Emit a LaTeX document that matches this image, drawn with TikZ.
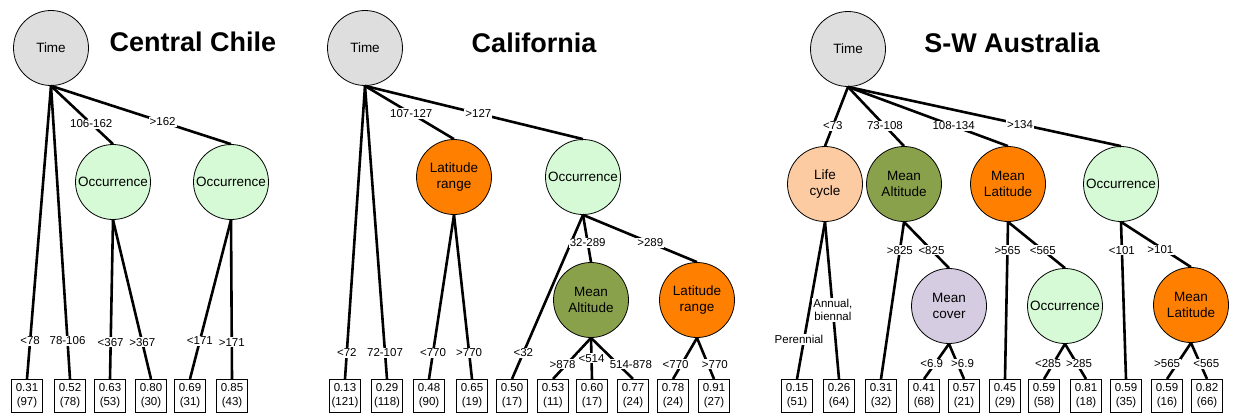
\documentclass[tikz,border=0pt]{standalone}
\usepackage{fontspec}
\setmainfont{Liberation Sans}
\definecolor{rootgray}{HTML}{DEDEDE}
\definecolor{occgreen}{HTML}{D5FAD5}
\definecolor{latorange}{HTML}{FF7F00}
\definecolor{altolive}{HTML}{8AA14C}
\definecolor{lifepeach}{HTML}{FCCBA2}
\definecolor{covlilac}{HTML}{D5CCE1}
\begin{document}
\begin{tikzpicture}[
    x=1pt, y=-1pt,
    split/.style={circle, draw, line width=0.8pt, minimum size=75pt, inner sep=0pt, align=center, font=\fontsize{13.5}{15.5}\selectfont},
    rootvar/.style={split, fill=rootgray},
    occvar/.style={split, fill=occgreen},
    latvar/.style={split, fill=latorange},
    altvar/.style={split, fill=altolive},
    lifevar/.style={split, fill=lifepeach},
    covvar/.style={split, fill=covlilac},
    leaf/.style={draw, line width=1.1pt, minimum width=31pt, minimum height=33pt, inner sep=1pt, align=center, font=\fontsize{11.5}{14}\selectfont},
    cut/.style={fill=white, inner sep=1pt, align=center, font=\fontsize{11.5}{13}\selectfont},
    branch/.style={draw, line width=2.6pt},
    region/.style={font=\bfseries\fontsize{27}{30}\selectfont}
]
    \useasboundingbox (0,0) rectangle (1236,416);

    % Central Chile
    \node[rootvar] (cRoot) at (51,48) {Time};
    \node[region] (cTitle) at (193,42) {Central Chile};
    \node[occvar] (cOccA) at (113,182) {Occurrence};
    \node[occvar] (cOccB) at (231,182) {Occurrence};
    \node[leaf] (c1) at (27,396) {0.31\\(97)};
    \node[leaf] (c2) at (70,396) {0.52\\(78)};
    \node[leaf] (c3) at (110,396) {0.63\\(53)};
    \node[leaf] (c4) at (151,396) {0.80\\(30)};
    \node[leaf] (c5) at (190,396) {0.69\\(31)};
    \node[leaf] (c6) at (232,396) {0.85\\(43)};
    \draw[branch] (cRoot.south) -- node[cut, pos=0.87] {<78} (c1.north);
    \draw[branch] (cRoot.south) -- node[cut, pos=0.87] {78-106} (c2.north);
    \draw[branch] (cRoot.south) -- node[cut, pos=0.65] {106-162} (cOccA.north);
    \draw[branch] (cRoot.south) -- node[cut, pos=0.62] {>162} (cOccB.north);
    \draw[branch] (cOccA.south) -- node[cut, pos=0.77] {<367} (c3.north);
    \draw[branch] (cOccA.south) -- node[cut, pos=0.77] {>367} (c4.north);
    \draw[branch] (cOccB.south) -- node[cut, pos=0.76] {<171} (c5.north);
    \draw[branch] (cOccB.south) -- node[cut, pos=0.77] {>171} (c6.north);

    % California
    \node[rootvar] (kRoot) at (365,48) {Time};
    \node[region] (kTitle) at (534,43) {California};
    \node[latvar] (kLatA) at (454,177) {Latitude\\range};
    \node[occvar] (kOcc) at (583,177) {Occurrence};
    \node[altvar] (kAlt) at (591,300) {Mean\\Altitude};
    \node[latvar] (kLatB) at (697,300) {Latitude\\range};
    \node[leaf] (k1) at (345,396) {0.13\\(121)};
    \node[leaf] (k2) at (387,396) {0.29\\(118)};
    \node[leaf] (k3) at (429,396) {0.48\\(90)};
    \node[leaf] (k4) at (472,396) {0.65\\(19)};
    \node[leaf] (k5) at (512,396) {0.50\\(17)};
    \node[leaf] (k6) at (553,396) {0.53\\(11)};
    \node[leaf] (k7) at (592,396) {0.60\\(17)};
    \node[leaf] (k8) at (633,396) {0.77\\(24)};
    \node[leaf] (k9) at (673,396) {0.78\\(24)};
    \node[leaf] (k10) at (714,396) {0.91\\(27)};
    \draw[branch] (kRoot.south) -- node[cut, pos=0.91] {<72} (k1.north);
    \draw[branch] (kRoot.south) -- node[cut, pos=0.91] {72-107} (k2.north);
    \draw[branch] (kRoot.south) -- node[cut, pos=0.52] {107-127} (kLatA.north);
    \draw[branch] (kRoot.south) -- node[cut, pos=0.52] {>127} (kOcc.north);
    \draw[branch] (kLatA.south) -- node[cut, pos=0.84] {<770} (k3.north);
    \draw[branch] (kLatA.south) -- node[cut, pos=0.84] {>770} (k4.north);
    \draw[branch] (kOcc.south) -- node[cut, pos=0.84] {<32} (k5.north);
    \draw[branch] (kOcc.south) -- node[cut, pos=0.59] {32-289} (kAlt.north);
    \draw[branch] (kOcc.south) -- node[cut, pos=0.59] {>289} (kLatB.north);
    \draw[branch] (kAlt.south) -- node[cut, pos=0.64, xshift=-4pt] {>878} (k6.north);
    \draw[branch] (kAlt.south) -- node[cut, pos=0.5] {<514} (k7.north);
    \draw[branch] (kAlt.south) -- node[cut, pos=0.64, xshift=13pt] {514-878} (k8.north);
    \draw[branch] (kLatB.south) -- node[cut, pos=0.64, xshift=-6pt] {<770} (k9.north);
    \draw[branch] (kLatB.south) -- node[cut, pos=0.64, xshift=7pt] {>770} (k10.north);

    % S-W Australia
    \node[rootvar] (aRoot) at (848,49) {Time};
    \node[region] (aTitle) at (1012,43) {S-W Australia};
    \node[lifevar] (aLife) at (825,184) {Life\\cycle};
    \node[altvar] (aAlt) at (904,184) {Mean\\Altitude};
    \node[latvar] (aLatA) at (1008,184) {Mean\\Latitude};
    \node[occvar] (aOccA) at (1121,184) {Occurrence};
    \node[covvar] (aCov) at (949,306) {Mean\\cover};
    \node[occvar] (aOccB) at (1065,306) {Occurrence};
    \node[latvar] (aLatB) at (1191,305) {Mean\\Latitude};
    \node[leaf] (a1) at (797,396) {0.15\\(51)};
    \node[leaf] (a2) at (839,396) {0.26\\(64)};
    \node[leaf] (a3) at (881,396) {0.31\\(32)};
    \node[leaf] (a4) at (924,396) {0.41\\(68)};
    \node[leaf] (a5) at (964,396) {0.57\\(21)};
    \node[leaf] (a6) at (1005,396) {0.45\\(29)};
    \node[leaf] (a7) at (1044,396) {0.59\\(58)};
    \node[leaf] (a8) at (1086,396) {0.81\\(18)};
    \node[leaf] (a9) at (1126,396) {0.59\\(35)};
    \node[leaf] (a10) at (1167,396) {0.59\\(16)};
    \node[leaf] (a11) at (1207,396) {0.82\\(66)};
    \draw[branch] (aRoot.south) -- node[cut, pos=0.66] {<73} (aLife.north);
    \draw[branch] (aRoot.south) -- node[cut, pos=0.66] {73-108} (aAlt.north);
    \draw[branch] (aRoot.south) -- node[cut, pos=0.66] {108-134} (aLatA.north);
    \draw[branch] (aRoot.south) -- node[cut, pos=0.63] {>134} (aOccA.north);
    \draw[branch] (aLife.south) -- node[cut, pos=0.75, xshift=-5pt] {Perennial} (a1.north);
    \draw[branch] (aLife.south) -- node[cut, pos=0.56] {Annual,\\biennal} (a2.north);
    \draw[branch] (aAlt.south) -- node[cut, pos=0.18] {>825} (a3.north);
    \draw[branch] (aAlt.south) -- node[cut, pos=0.61] {<825} (aCov.north);
    \draw[branch] (aCov.south) -- node[cut, pos=0.57, xshift=-3pt] {<6.9} (a4.north);
    \draw[branch] (aCov.south) -- node[cut, pos=0.57, xshift=5pt] {>6.9} (a5.north);
    \draw[branch] (aLatA.south) -- node[cut, pos=0.18] {>565} (a6.north);
    \draw[branch] (aLatA.south) -- node[cut, pos=0.61] {<565} (aOccB.north);
    \draw[branch] (aOccB.south) -- node[cut, pos=0.57, xshift=-5pt] {<285} (a7.north);
    \draw[branch] (aOccB.south) -- node[cut, pos=0.57, xshift=2pt] {>285} (a8.north);
    \draw[branch] (aOccA.south) -- node[cut, pos=0.18] {<101} (a9.north);
    \draw[branch] (aOccA.south) -- node[cut, pos=0.62, xshift=-4pt] {>101} (aLatB.north);
    \draw[branch] (aLatB.south) -- node[cut, pos=0.58, xshift=-10pt] {>565} (a10.north);
    \draw[branch] (aLatB.south) -- node[cut, pos=0.58, xshift=6pt] {<565} (a11.north);
\end{tikzpicture}
\end{document}
